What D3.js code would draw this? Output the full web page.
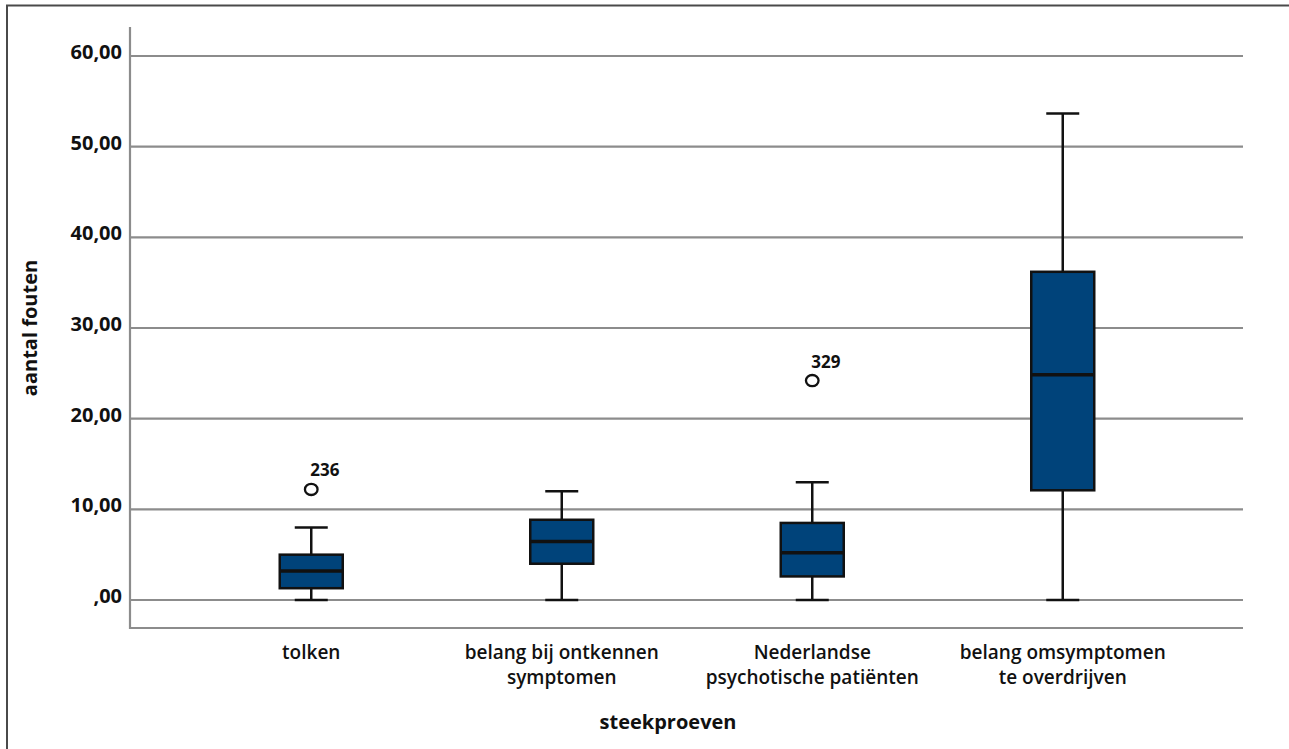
<!DOCTYPE html>
<html><head><meta charset="utf-8">
<script src="https://cdn.jsdelivr.net/npm/d3@7"></script>
<style>
html,body{margin:0;padding:0;background:#fff;}
text{font-family:"Open Sans",sans-serif;fill:#111;}
</style></head>
<body>
<svg id="chart" width="1289" height="749"></svg>
<script>
// ---- data ----
const categories = ["tolken", "belang bij ontkennen symptomen", "Nederlandse psychotische patiënten", "belang omsymptomen te overdrijven"];
const categoryLines = [["tolken"], ["belang bij ontkennen", "symptomen"], ["Nederlandse", "psychotische patiënten"], ["belang omsymptomen", "te overdrijven"]];
const whiskerLow  = [0, 0, 0, 0];
const q1          = [1.3, 4.0, 2.6, 12.1];
const median      = [3.2, 6.45, 5.2, 24.85];
const q3          = [5.0, 8.85, 8.5, 36.2];
const whiskerHigh = [8.0, 12.0, 13.0, 53.65];
const outlierCat   = ["tolken", "Nederlandse psychotische patiënten"];
const outlierValue = [12.2, 24.2];
const outlierLabel = ["236", "329"];
const yTicks = [0, 10, 20, 30, 40, 50, 60];
const yTickLabels = [",00", "10,00", "20,00", "30,00", "40,00", "50,00", "60,00"];

const svg = d3.select("#chart");
const x = d3.scaleBand().domain(categories).range([186, 1188]).padding(0);
const y = d3.scaleLinear().domain([0, 60]).range([600, 56]);
const plotLeft = 130, plotRight = 1243, axisBottom = 628;
const boxW = 63, capW = 33;
const cx = c => x(c) + x.bandwidth() / 2;

// outer frame
svg.append("path").attr("d", "M7,751 V5.5 H1295").attr("fill", "none")
  .attr("stroke", "#4a4a4a").attr("stroke-width", 2);

// gridlines
svg.append("g").selectAll("line").data(yTicks).join("line")
  .attr("x1", plotLeft).attr("x2", plotRight)
  .attr("y1", d => y(d)).attr("y2", d => y(d))
  .attr("stroke", "#8c8c8c").attr("stroke-width", 2.2);

// axes lines
svg.append("path").attr("d", `M${plotLeft},27 V${axisBottom} H${plotRight}`)
  .attr("fill", "none").attr("stroke", "#8c8c8c").attr("stroke-width", 2.2);

// y tick labels
svg.append("g").selectAll("text").data(yTicks).join("text")
  .attr("x", 122).attr("y", d => y(d) + 3)
  .attr("text-anchor", "end").attr("font-size", 20).attr("font-weight", 700)
  .text((d, i) => yTickLabels[i]);

// y axis title
svg.append("text").attr("transform", "translate(37,328) rotate(-90)")
  .attr("text-anchor", "middle").attr("font-size", 20).attr("font-weight", 700)
  .text("aantal fouten");

// boxes
const stats = categories.map((c, i) => ({c, lo: whiskerLow[i], q1: q1[i], med: median[i], q3: q3[i], hi: whiskerHigh[i]}));
const g = svg.append("g").selectAll("g").data(stats).join("g");
g.append("line").attr("x1", d => cx(d.c)).attr("x2", d => cx(d.c))
  .attr("y1", d => y(d.hi)).attr("y2", d => y(d.lo))
  .attr("stroke", "#111").attr("stroke-width", 2.5);
g.append("line").attr("x1", d => cx(d.c) - capW / 2).attr("x2", d => cx(d.c) + capW / 2)
  .attr("y1", d => y(d.hi)).attr("y2", d => y(d.hi))
  .attr("stroke", "#111").attr("stroke-width", 2.5);
g.append("line").attr("x1", d => cx(d.c) - capW / 2).attr("x2", d => cx(d.c) + capW / 2)
  .attr("y1", d => y(d.lo)).attr("y2", d => y(d.lo))
  .attr("stroke", "#111").attr("stroke-width", 2.5);
g.append("rect").attr("x", d => cx(d.c) - boxW / 2).attr("width", boxW)
  .attr("y", d => y(d.q3)).attr("height", d => y(d.q1) - y(d.q3))
  .attr("fill", "#00437a").attr("stroke", "#111").attr("stroke-width", 2.5);
g.append("line").attr("x1", d => cx(d.c) - boxW / 2).attr("x2", d => cx(d.c) + boxW / 2)
  .attr("y1", d => y(d.med)).attr("y2", d => y(d.med))
  .attr("stroke", "#111").attr("stroke-width", 3.5);

// outliers
const outs = outlierCat.map((c, i) => ({c, v: outlierValue[i], l: outlierLabel[i]}));
const og = svg.append("g").selectAll("g").data(outs).join("g");
og.append("ellipse").attr("cx", d => cx(d.c)).attr("cy", d => y(d.v))
  .attr("rx", 6.3).attr("ry", 5.6).attr("fill", "none").attr("stroke", "#111").attr("stroke-width", 2.3);
og.append("text").attr("x", d => cx(d.c) - 1).attr("y", d => y(d.v) - 13)
  .attr("font-size", 17).attr("font-weight", 700).text(d => d.l);

// category labels (one text per line)
const labelRows = [];
categories.forEach((c, i) => categoryLines[i].forEach((t, j) => labelRows.push({c, t, j})));
svg.append("g").selectAll("text").data(labelRows).join("text")
  .attr("text-anchor", "middle").attr("font-size", 19).attr("font-weight", 600)
  .attr("x", d => cx(d.c)).attr("y", d => 659 + d.j * 25)
  .text(d => d.t);

// x axis title
svg.append("text").attr("x", 668).attr("y", 729).attr("text-anchor", "middle")
  .attr("font-size", 20).attr("font-weight", 700).text("steekproeven");
</script>
</body></html>
